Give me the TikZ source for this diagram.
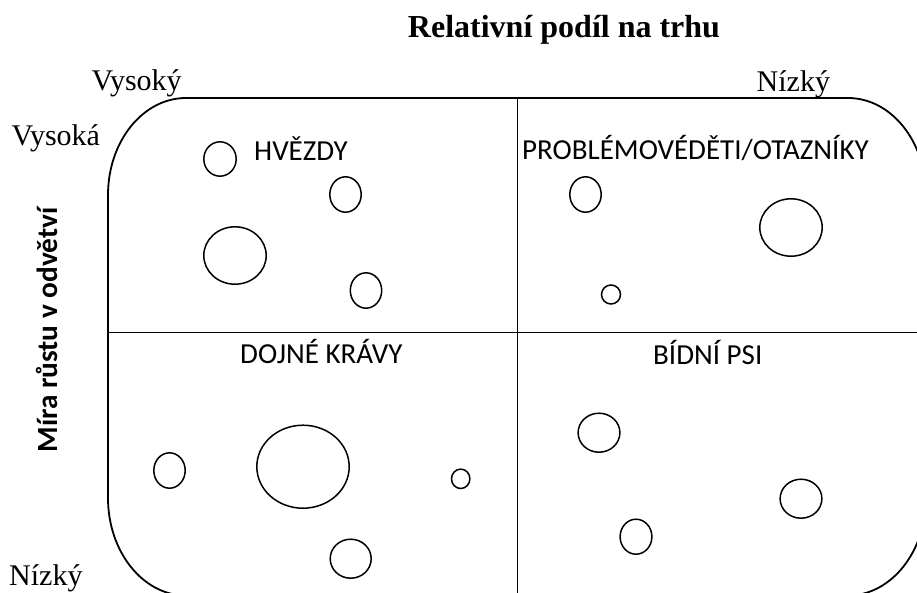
\documentclass[tikz,border=0pt]{standalone}
\usepackage{fontspec}
\setmainfont{Liberation Serif}
\newfontfamily\calibri{Carlito}
\begin{document}
\begin{tikzpicture}[x=1pt,y=-1pt,
  frame/.style={line width=1.8pt},
  vdivider/.style={line width=1.2pt},
  hdivider/.style={line width=1.8pt},
  bubble/.style={line width=1.5pt},
  axislabel/.style={font=\fontsize{30}{32}\selectfont, inner sep=0pt, anchor=base west},
  quadlabel/.style={font=\calibri\fontsize{29}{30}\selectfont, inner sep=0pt, anchor=base west},
]
\useasboundingbox (0,0) rectangle (917,592);
\clip (0,0) rectangle (917,592);

% title of the horizontal axis
\node[font=\bfseries\fontsize{32}{34}\selectfont, inner sep=0pt, anchor=base] (title) at (564,37.5) {Relativní podíl na trhu};

% vertical axis title
\node[font=\calibri\bfseries\fontsize{29.3}{30}\selectfont, inner sep=0pt, anchor=base, rotate=90] (ytitle) at (57,330) {Míra růstu v odvětví};

% axis end labels
\node[axislabel] (xhigh) at (91.5,90.7) {Vysoký};
\node[axislabel] (xlow)  at (756.5,91.7) {Nízký};
\node[axislabel] (yhigh) at (11.5,145) {Vysoká};
\node[axislabel] (ylow)  at (9,585) {Nízký};

% rounded frame of the matrix
\draw[frame] (108,498) -- (108,195)
  .. controls (108,141.4) and (142.9,98) .. (186,98)
  -- (848,98)
  .. controls (891.1,98) and (926,141.4) .. (926,195)
  -- (926,498)
  .. controls (926,551.6) and (891.1,595.5) .. (848,595.5)
  -- (186,595.5)
  .. controls (142.9,595.5) and (108,551.6) .. (108,498) -- cycle;

% quadrant dividers
\coordinate (vtop) at (517.5,98);
\coordinate (vbot) at (517.5,600);
\coordinate (hleft) at (108,332.5);
\coordinate (hright) at (926,332.5);
\draw[vdivider] (vtop) -- (vbot);
\draw[hdivider] (hleft) -- (hright);

% quadrant names
\node[quadlabel] (stars)    at (254,160) {HVĚZDY};
\node[quadlabel] (question) at (522,159) {PROBLÉMOVÉDĚTI/OTAZNÍKY};
\node[quadlabel] (cows)     at (240,363) {DOJNÉ KRÁVY};
\node[quadlabel] (dogs)     at (653,364) {BÍDNÍ PSI};

% business units
\foreach \cx/\cy/\rx/\ry in {
  220/159/16.2/17.2, 345.5/194.5/15.7/17.7, 235/255.5/31.2/28.7, 366/290.5/15.7/17.7,
  585.5/194.5/15.7/17.7, 791/227.5/31.2/28.7, 611/294.5/9.5/9.5,
  169.5/470.5/15.7/17.7, 303/466.7/46.2/41.5, 460.7/478.8/9.2/9.7, 350.7/558.7/20.5/19.5,
  599/432.7/20.9/19.5, 801/498.7/20.9/19.5, 636/536.7/15.9/17.5}
  \draw[bubble] (\cx,\cy) ellipse [x radius=\rx, y radius=\ry];
\end{tikzpicture}
\end{document}
